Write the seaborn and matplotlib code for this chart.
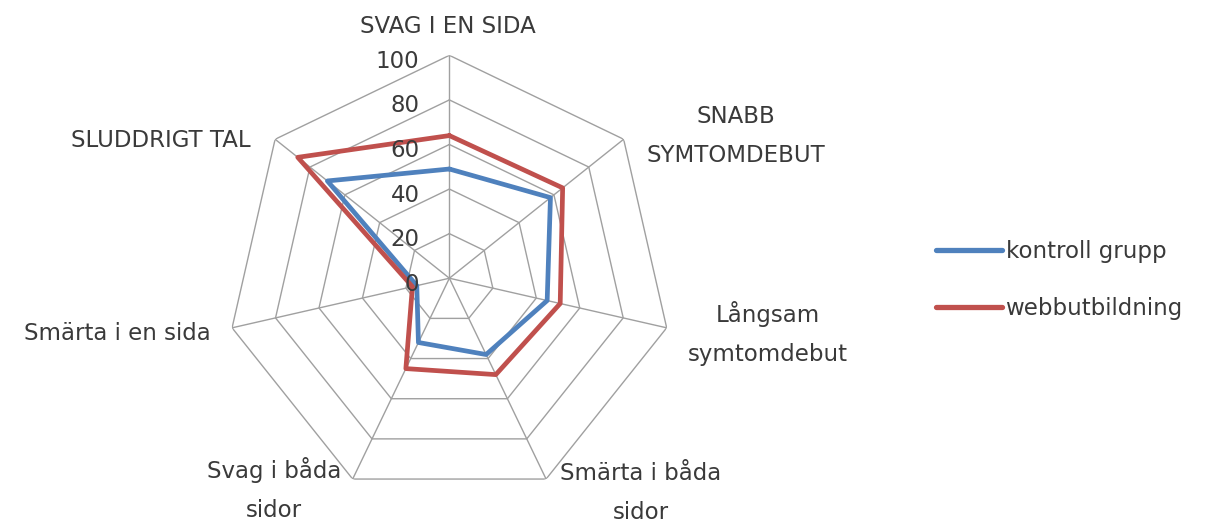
import numpy as np
import pandas as pd
import matplotlib
matplotlib.use("Agg")
import matplotlib.pyplot as plt
import seaborn as sns
from matplotlib.lines import Line2D

categories = ["SVAG I EN SIDA", "SNABB\nSYMTOMDEBUT", "Långsam\nsymtomdebut",
              "Smärta i båda\nsidor", "Svag i båda\nsidor", "Smärta i en sida",
              "SLUDDRIGT TAL"]
kontroll = [49, 58, 45, 38, 32, 15, 70]
webb = [64, 65, 51, 48, 45, 17, 87]
series_names = ["kontroll grupp", "webbutbildning"]
ticks = [0, 20, 40, 60, 80, 100]

sns.set_style("white")
plt.rcParams['font.family'] = ['DejaVu Sans']

W, H = 1217, 522
fig = plt.figure(figsize=(12.17, 5.22), dpi=100)
ax = fig.add_axes([0.186, 0.040, 0.3665, 0.854], projection='polar')
ax.set_theta_zero_location('N')
ax.set_theta_direction(-1)

n = len(categories)
angles = np.arange(n) * 2 * np.pi / n
closed = np.append(angles, angles[0])

grid_col = '#A0A0A0'
for r in ticks[1:]:
    ax.plot(closed, [r] * (n + 1), color=grid_col, lw=1.0, zorder=1)
for a in angles:
    ax.plot([a, a], [0, ticks[-1]], color=grid_col, lw=1.0, zorder=1)

rows = []
for name, vals in zip(series_names, [kontroll, webb]):
    for i in range(n + 1):
        rows.append({"theta": closed[i], "r": vals[i % n], "series": name})
df = pd.DataFrame(rows)
palette = {"kontroll grupp": "#4F81BD", "webbutbildning": "#C0504D"}
sns.lineplot(data=df, x="theta", y="r", hue="series", palette=palette, sort=False,
             estimator=None, lw=3.4, ax=ax, legend=False, zorder=3)

ax.set_ylim(0, 100)
ax.set_xticks([])
ax.set_yticks([])
ax.grid(False)
ax.spines['polar'].set_visible(False)
ax.set_xlabel("")
ax.set_ylabel("")

txt_col = '#3A3A3A'
fs = 16.5
for t in ticks:
    ax.annotate(str(t), xy=(0, t), xytext=(-30, -6), textcoords='offset pixels',
                ha='right', va='center', fontsize=fs, color=txt_col, zorder=4)

# category label anchor (center x, first baseline y) in pixels
lab_pos = [(448, 33), (736, 123), (768, 322), (641, 480), (274, 478), (117, 340), (161, 147)]
line_gap = 39
for lab, (x, y) in zip(categories, lab_pos):
    for j, line in enumerate(lab.split("\n")):
        fig.text(x / W, 1 - (y + j * line_gap) / H, line, ha='center', va='baseline',
                 fontsize=fs, color=txt_col)

handles = [Line2D([], [], color=palette[s], lw=3.8) for s in series_names]
fig.legend(handles, series_names, loc='center left', bbox_to_anchor=(915 / W, 1 - 280 / H),
           frameon=False, fontsize=fs, handlelength=2.9, handletextpad=0.15,
           labelspacing=1.5, labelcolor=txt_col)

fig.savefig("out.png", dpi=100)
